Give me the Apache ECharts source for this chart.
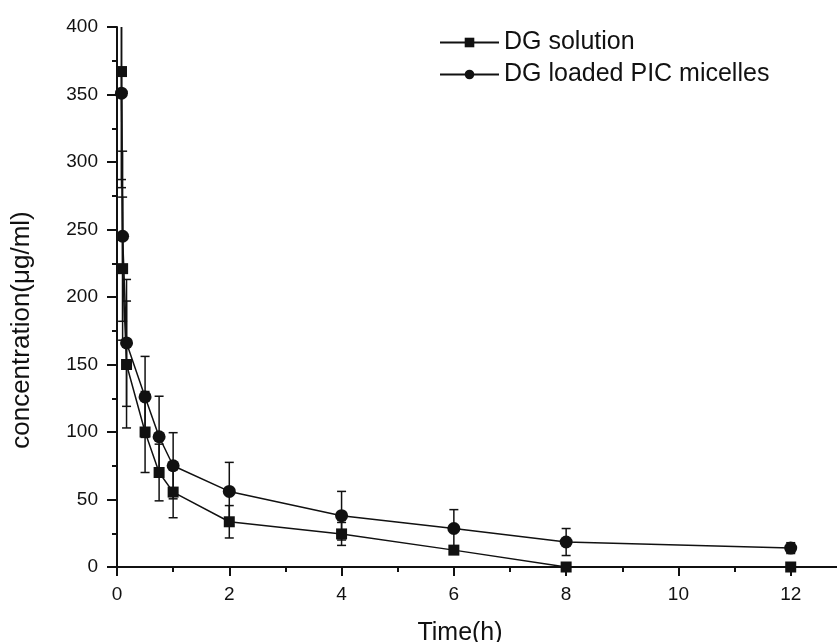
<!DOCTYPE html>
<html>
<head>
<meta charset="utf-8">
<script src="https://cdn.jsdelivr.net/npm/echarts@6/dist/echarts.min.js"></script>
<style>html,body{margin:0;padding:0;background:#fff}#c{width:837px;height:642px}</style>
</head>
<body>
<div id="c"></div>
<script>
const times = [0.08, 0.1, 0.17, 0.5, 0.75, 1, 2, 4, 6, 8, 12];
const solution = [367, 221, 150, 100, 70, 55.5, 33.5, 24.5, 12.5, 0, 0];
const solutionSD = [80, 53, 47, 30, 21, 19, 12, 8.5, 3, 0, 0];
const micelles = [351, 245, 166, 126, 96.5, 75, 56, 38, 28.5, 18.5, 14];
const micellesSD = [70, 63, 47, 30, 30, 24.5, 21.5, 18, 14, 10, 4];
const xTicks = [0, 2, 4, 6, 8, 10, 12];
const yTicks = [0, 50, 100, 150, 200, 250, 300, 350, 400];
const seriesNames = ['DG solution', 'DG loaded PIC micelles'];

const FONT = 'Liberation Sans, Arial, Helvetica, sans-serif';
const INK = '#111';

function errSeries(vals, sds) {
  return {
    type: 'custom',
    silent: true,
    clip: true,
    z: 1,
    encode: { x: 0, y: [1, 2] },
    data: times.map((t, i) => [t, vals[i] - sds[i], vals[i] + sds[i]]),
    renderItem: function (params, api) {
      const x = api.value(0), lo = api.value(1), hi = api.value(2);
      const p1 = api.coord([x, lo]), p2 = api.coord([x, hi]);
      const w = 4.5;
      const st = { stroke: INK, lineWidth: 1.5 };
      return {
        type: 'group',
        children: [
          { type: 'line', shape: { x1: p1[0], y1: p1[1], x2: p2[0], y2: p2[1] }, style: st },
          { type: 'line', shape: { x1: p1[0] - w, y1: p1[1], x2: p1[0] + w, y2: p1[1] }, style: st },
          { type: 'line', shape: { x1: p2[0] - w, y1: p2[1], x2: p2[0] + w, y2: p2[1] }, style: st }
        ]
      };
    }
  };
}

const chart = echarts.init(document.getElementById('c'), null, { renderer: 'canvas' });
chart.setOption({
  animation: false,
  backgroundColor: '#fff',
  grid: { left: 117, top: 27, height: 540, width: 786, containLabel: false, outerBoundsMode: 'none' },
  legend: {
    data: seriesNames,
    orient: 'vertical',
    left: 439,
    top: 30,
    padding: 0,
    itemWidth: 59,
    itemHeight: 12,
    itemGap: 7,
    textStyle: { fontFamily: FONT, fontSize: 25, color: INK },
    inactiveColor: INK
  },
  xAxis: {
    type: 'value',
    min: 0,
    max: 14,
    interval: 2,
    name: 'Time(h)',
    nameLocation: 'middle',
    nameGap: 54,
    nameTextStyle: { fontFamily: FONT, fontSize: 25, color: INK, padding: [0, 100, 0, 0] },
    axisLine: { show: true, onZero: false, lineStyle: { color: INK, width: 2 } },
    axisTick: { show: true, inside: false, length: 9, lineStyle: { color: INK, width: 2 } },
    minorTick: { show: true, splitNumber: 2, length: 5, lineStyle: { color: INK, width: 2 } },
    axisLabel: {
      fontFamily: FONT, fontSize: 19, color: INK, margin: 18,
      formatter: v => (xTicks.indexOf(v) >= 0 ? String(v) : '')
    },
    splitLine: { show: false }
  },
  yAxis: {
    type: 'value',
    min: 0,
    max: 400,
    interval: 50,
    name: 'concentration(μg/ml)',
    nameLocation: 'middle',
    nameGap: 82,
    nameRotate: 90,
    nameTextStyle: { fontFamily: FONT, fontSize: 26, color: INK, padding: [0, 66, 0, 0] },
    axisLine: { show: true, lineStyle: { color: INK, width: 2 } },
    axisTick: { show: true, inside: false, length: 10, lineStyle: { color: INK, width: 2 } },
    minorTick: { show: true, splitNumber: 2, length: 5, lineStyle: { color: INK, width: 2 } },
    axisLabel: {
      fontFamily: FONT, fontSize: 19, color: INK, margin: 19,
      formatter: v => (yTicks.indexOf(v) >= 0 ? String(v) : '')
    },
    splitLine: { show: false }
  },
  series: [
    errSeries(solution, solutionSD),
    errSeries(micelles, micellesSD),
    {
      name: seriesNames[0],
      type: 'line',
      data: times.map((t, i) => [t, solution[i]]),
      symbol: 'rect',
      symbolSize: 11,
      showAllSymbol: true,
      clip: true,
      z: 3,
      itemStyle: { color: INK },
      lineStyle: { color: INK, width: 1.5 }
    },
    {
      name: seriesNames[1],
      type: 'line',
      data: times.map((t, i) => [t, micelles[i]]),
      symbol: 'circle',
      symbolSize: 13,
      showAllSymbol: true,
      clip: true,
      z: 3,
      itemStyle: { color: INK },
      lineStyle: { color: INK, width: 1.5 }
    }
  ]
});
</script>
</body>
</html>
